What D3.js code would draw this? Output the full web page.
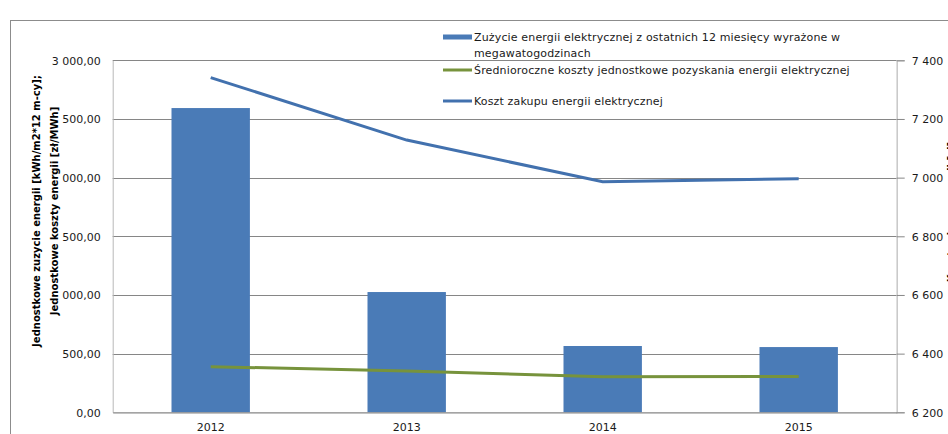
<!DOCTYPE html>
<html>
<head>
<meta charset="utf-8">
<script src="https://cdn.jsdelivr.net/npm/d3@7"></script>
<style>
  html, body { margin: 0; padding: 0; background: #fff; overflow: hidden; }
  svg { display: block; font-family: "DejaVu Sans", sans-serif; }
</style>
</head>
<body>
<svg id="chart" width="948" height="434"></svg>
<script>
// ---- data ----
const categories = ["2012", "2013", "2014", "2015"];
const consumption = [2593, 1025, 565, 556];          // bars, left axis
const unitCosts = [389, 352, 304, 305];              // green line, left axis
const purchaseCost = [7341, 7128, 6986, 6996];       // blue line, right axis
const leftTicks = [0, 500, 1000, 1500, 2000, 2500, 3000];
const rightTicks = [6200, 6400, 6600, 6800, 7000, 7200, 7400];
const seriesNames = [
  ["Zużycie energii elektrycznej z ostatnich 12 miesięcy wyrażone w", "megawatogodzinach"],
  ["Średnioroczne koszty jednostkowe pozyskania energii elektrycznej"],
  ["Koszt zakupu energii elektrycznej"]
];
const leftTitle = ["Jednostkowe zuzycie energii [kWh/m2*12 m-cy];", "Jednostkowe koszty energii [zł/MWh]"];
const rightTitle = "Koszt zakupu energii [zł]";

// ---- layout ----
const plot = { left: 112.7, right: 896.7, top: 60.3, bottom: 412.3 };
const colBar = "#4a7bb7", colGreen = "#77933c", colBlue = "#4271ae", colGrid = "#868686";

const svg = d3.select("#chart");

// chart frame
svg.append("rect").attr("x", 10.5).attr("y", 20.5).attr("width", 1200).attr("height", 1200)
  .attr("fill", "none").attr("stroke", "#8c8c8c");

const x = d3.scaleBand().domain(categories).range([plot.left, plot.right])
  .paddingInner(0.6).paddingOuter(0.3);
const yL = d3.scaleLinear().domain([0, 3000]).range([plot.bottom, plot.top]);
const yR = d3.scaleLinear().domain([6200, 7400]).range([plot.bottom, plot.top]);
const cx = c => x(c) + x.bandwidth() / 2;

const fmtL = v => d3.format(",.2f")(v).replace(/,/g, " ").replace(".", ",");
const fmtR = v => d3.format(",")(v).replace(/,/g, " ");

// gridlines
svg.append("g").selectAll("line").data(leftTicks.slice(1)).join("line")
  .attr("x1", plot.left).attr("x2", plot.right)
  .attr("y1", d => Math.round(yL(d)) + 0.5).attr("y2", d => Math.round(yL(d)) + 0.5)
  .attr("stroke", colGrid).attr("stroke-width", 1);

// left axis
const gL = svg.append("g").attr("transform", `translate(${plot.left},0)`)
  .call(d3.axisLeft(yL).tickValues(leftTicks).tickSize(0).tickPadding(12).tickFormat(fmtL));
gL.select(".domain").attr("stroke", "#b8b8b8");
gL.selectAll("text").attr("font-size", 11).attr("fill", "#1a1a1a")
  .attr("font-family", "DejaVu Sans").attr("dy", "0.35em");

// right axis
const gR = svg.append("g").attr("transform", `translate(${plot.right},0)`)
  .call(d3.axisRight(yR).tickValues(rightTicks).tickSize(8).tickPadding(7).tickFormat(fmtR));
gR.select(".domain").attr("stroke", "#c8c8c8").attr("stroke-width", 1.5);
gR.selectAll(".tick line").attr("stroke", colGrid);
gR.selectAll("text").attr("font-size", 11).attr("fill", "#1a1a1a")
  .attr("font-family", "DejaVu Sans").attr("dy", "0.35em");

// bars
svg.append("g").selectAll("rect").data(categories).join("rect")
  .attr("x", d => x(d)).attr("width", x.bandwidth())
  .attr("y", (d, i) => yL(consumption[i]))
  .attr("height", (d, i) => plot.bottom - yL(consumption[i]))
  .attr("fill", colBar);

// bottom axis
const gB = svg.append("g").attr("transform", `translate(0,${plot.bottom})`)
  .call(d3.axisBottom(x).tickSize(0).tickPadding(11));
gB.select(".domain").attr("stroke", colGrid).attr("stroke-width", 1.3);
gB.selectAll("text").attr("font-size", 11).attr("fill", "#1a1a1a")
  .attr("font-family", "DejaVu Sans");

// lines
const lineL = d3.line().x((d, i) => cx(categories[i])).y(d => yL(d));
const lineR = d3.line().x((d, i) => cx(categories[i])).y(d => yR(d));
svg.append("path").datum(unitCosts).attr("d", lineL)
  .attr("fill", "none").attr("stroke", colGreen).attr("stroke-width", 3);
svg.append("path").datum(purchaseCost).attr("d", lineR)
  .attr("fill", "none").attr("stroke", colBlue).attr("stroke-width", 3);

// left axis title (two lines, with white backing like the original)
const titleLines = [{ t: leftTitle[0], x: 40 }, { t: leftTitle[1], x: 58 }];
titleLines.forEach(o => {
  const g = svg.append("g").attr("transform", `translate(${o.x},211) rotate(-90)`);
  const bg = g.append("rect").attr("fill", "#fff");
  const t = g.append("text").attr("text-anchor", "middle")
    .attr("font-size", 10).attr("font-weight", "bold").attr("fill", "#000").text(o.t);
  const b = t.node().getBBox();
  bg.attr("x", b.x).attr("y", b.y + 1).attr("width", b.width).attr("height", b.height - 1);
});

// right axis title (mostly outside the picture)
svg.append("text").attr("transform", "translate(954.5,212) rotate(-90)")
  .attr("text-anchor", "middle").attr("font-size", 10).attr("font-weight", "bold")
  .attr("fill", "#000").text(rightTitle);

// legend
const lg = svg.append("g").attr("font-size", 11).attr("letter-spacing", "0.15px").attr("fill", "#1a1a1a");
lg.append("rect").attr("x", 443).attr("y", 34.5).attr("width", 29).attr("height", 5).attr("fill", colBar);
lg.append("text").attr("x", 474).attr("y", 41).text(seriesNames[0][0]);
lg.append("text").attr("x", 474).attr("y", 57).text(seriesNames[0][1]);
lg.append("line").attr("x1", 443).attr("x2", 472).attr("y1", 70).attr("y2", 70)
  .attr("stroke", colGreen).attr("stroke-width", 3);
lg.append("text").attr("x", 474).attr("y", 74).text(seriesNames[1][0]);
lg.append("line").attr("x1", 443).attr("x2", 472).attr("y1", 101).attr("y2", 101)
  .attr("stroke", colBlue).attr("stroke-width", 3);
lg.append("text").attr("x", 474).attr("y", 105).text(seriesNames[2][0]);
</script>
</body>
</html>
